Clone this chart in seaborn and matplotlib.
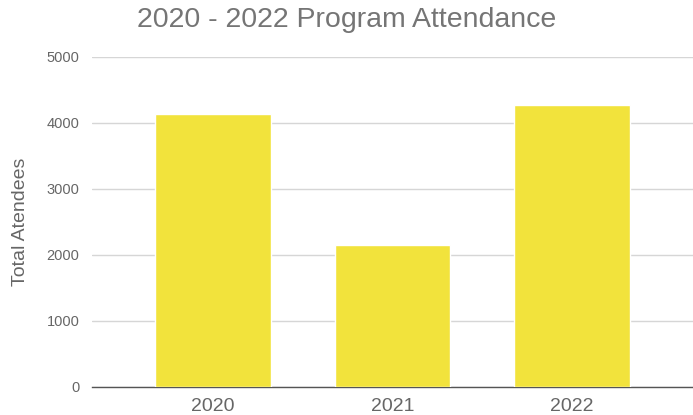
import matplotlib
matplotlib.use('Agg')
import matplotlib.pyplot as plt
import seaborn as sns
import pandas as pd

# --- Data ---
years = ['2020', '2021', '2022']
attendees = [4130, 2150, 4280]
y_ticks = [0, 1000, 2000, 3000, 4000, 5000]

df = pd.DataFrame({'year': years, 'attendees': attendees})

sns.set_style("white")
plt.rcParams['font.family'] = ['Liberation Sans', 'DejaVu Sans']

fig = plt.figure(figsize=(6.93, 4.15), dpi=100)
ax = fig.add_axes([0.1328, 0.0675, 0.8672, 0.7952])

sns.barplot(ax=ax, data=df, x='year', y='attendees', color='#F2E33C',
            saturation=1, width=0.644, zorder=3)

ax.set_ylim(0, 5000)
ax.set_xlim(-0.672, 2.672)
ax.set_yticks(y_ticks)
ax.yaxis.grid(True, color='#D6D6D6', linewidth=1, zorder=0)
ax.set_axisbelow(True)

for side in ['top', 'right', 'left']:
    ax.spines[side].set_visible(False)
ax.spines['bottom'].set_color('#555555')
ax.spines['bottom'].set_linewidth(1)

ax.tick_params(axis='y', length=0, pad=9, labelsize=10.5, labelcolor='#666666')
ax.tick_params(axis='x', length=0, pad=8, labelsize=14, labelcolor='#666666')

ax.set_xlabel('')
ax.set_ylabel('Total Atendees', fontsize=14, color='#666666', labelpad=13)

fig.suptitle('2020 - 2022 Program Attendance', fontsize=20.5, color='#757575', y=0.982, va='top')

plt.savefig('out.png', dpi=100)
plt.close()
